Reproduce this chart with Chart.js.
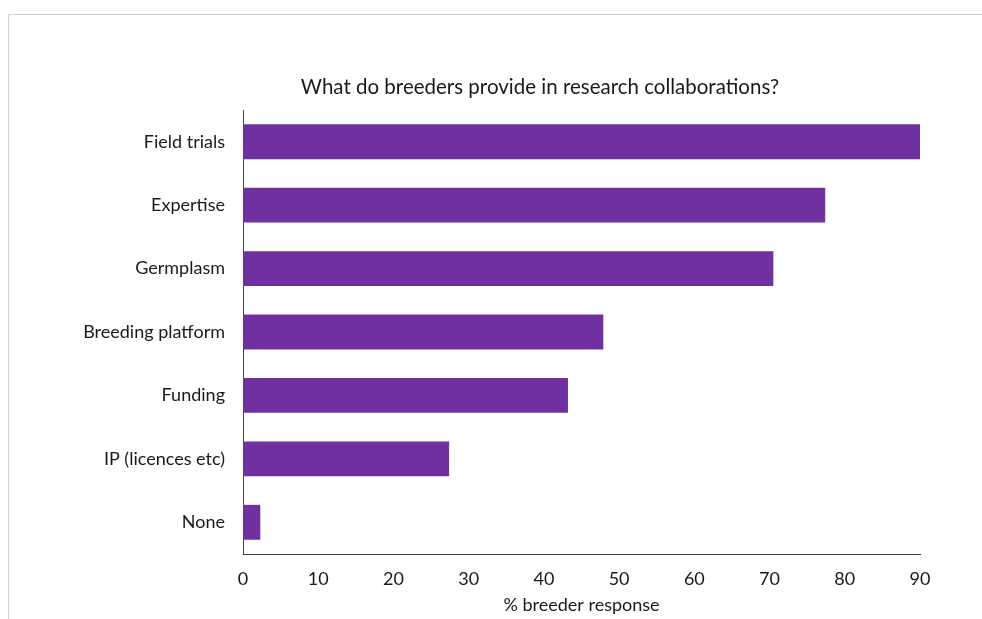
<!DOCTYPE html>
<html>
<head>
<meta charset="utf-8">
<script src="https://cdn.jsdelivr.net/npm/chart.js@4.4.0/dist/chart.umd.min.js"></script>
<style>
  body { margin: 0; background: #fff; overflow: hidden; }
  .frame { position: absolute; left: 8px; top: 14px; width: 1000px; height: 700px; border: 1px solid #cfcfcf; }
  #myChart { position: absolute; left: 0; top: 0; }
</style>
</head>
<body>
<div class="frame"></div>
<canvas id="myChart" width="982" height="619"></canvas>
<script>
const categories = ["Field trials", "Expertise", "Germplasm", "Breeding platform", "Funding", "IP (licences etc)", "None"];
const responses = [90.2, 77.4, 70.5, 47.9, 43.2, 27.4, 2.3];
const xTicks = [0, 10, 20, 30, 40, 50, 60, 70, 80, 90];
const chartTitle = "What do breeders provide in research collaborations?";

// title sits a little left of the plot centre, as in the original
const titlePlugin = {
  id: "titleText",
  afterDraw(chart) {
    const c = chart.ctx;
    c.save();
    c.font = "20.5px Lato";
    c.fillStyle = "#1a1a1a";
    c.textAlign = "center";
    c.textBaseline = "middle";
    c.fillText(chartTitle, 540, 87);
    c.restore();
  },
};

const ctx = document.getElementById("myChart");

var chart = new Chart(ctx, {
  type: "bar",
  data: {
    labels: categories,
    datasets: [
      {
        label: "% breeder response",
        data: responses,
        backgroundColor: "#7030a0",
        borderWidth: 0,
        categoryPercentage: 1,
        barPercentage: 0.55,
      },
    ],
  },
  options: {
    indexAxis: "y",
    responsive: false,
    animation: false,
    layout: {
      padding: { left: 0, right: 62, top: 110, bottom: 3 },
    },
    plugins: {
      legend: { display: false },
      tooltip: { enabled: false },
      title: { display: false },
    },
    scales: {
      x: {
        min: 0,
        max: 90,
        afterBuildTicks: (scale) => {
          scale.ticks = xTicks.map((v) => ({ value: v }));
        },
        afterFit: (scale) => {
          scale.height = 62;
        },
        grid: { display: false, drawTicks: false },
        border: { color: "#404040", width: 1 },
        ticks: {
          color: "#1a1a1a",
          padding: 14,
          font: { family: "Lato", size: 18, lineHeight: 1.2 },
        },
        title: {
          display: true,
          text: "% breeder response",
          color: "#1a1a1a",
          font: { family: "Lato", size: 18, lineHeight: 1.2 },
          padding: { top: 0, bottom: 0 },
        },
      },
      y: {
        afterFit: (scale) => {
          scale.width = 243;
        },
        grid: { display: false, drawTicks: false },
        border: { color: "#404040", width: 1 },
        ticks: {
          color: "#1a1a1a",
          padding: 18,
          font: { family: "Lato", size: 18 },
        },
      },
    },
  },
  plugins: [titlePlugin],
});
</script>
</body>
</html>
